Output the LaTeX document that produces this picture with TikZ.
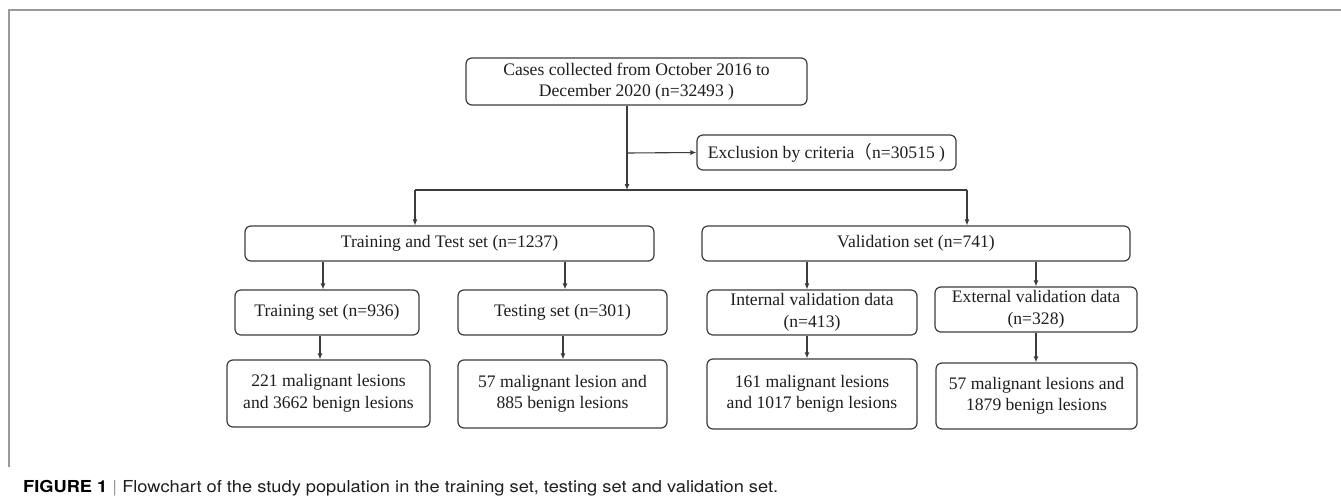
\documentclass[tikz,border=0pt]{standalone}
\usepackage{fontspec}
\setmainfont{Liberation Serif}
\newfontfamily\heros{TeX Gyre Heros}
\newfontfamily\cjk{Noto Sans CJK SC}
\usetikzlibrary{arrows.meta}
\definecolor{linecol}{HTML}{3C3C3C}
\definecolor{framecol}{HTML}{9A9A9A}
\definecolor{txtcol}{HTML}{1E1E1E}
\tikzset{
  box/.style={draw=linecol, line width=1.2pt, rounded corners=6pt, align=center,
    inner sep=0pt, text=txtcol, font=\fontsize{17.6}{21.5}\selectfont},
  arr/.style={draw=linecol, line width=1.1pt, -{Latex[length=6pt,width=5pt]}},
  ln/.style={draw=linecol, line width=1.1pt},
  frame/.style={draw=framecol, line width=1.6pt}
}
\begin{document}
\begin{tikzpicture}[x=1pt,y=-1pt]
\useasboundingbox (0,0) rectangle (1341,498);
% frame
\draw[frame] (1341,10) -- (9,10) -- (9,467);
% boxes
\node[box, minimum width=341pt, minimum height=47pt] (top) at (636.5,81.5)
  {Cases collected from October 2016 to\\December 2020 (n=32493 )};
\node[box, minimum width=259pt, minimum height=35pt] (excl) at (826.5,152.5)
  {Exclusion by criteria{\cjk （}n=30515 )};
\node[box, minimum width=409pt, minimum height=35pt] (tt) at (449.5,243.5)
  {Training and Test set (n=1237)};
\node[box, minimum width=428pt, minimum height=35pt] (val) at (916,243.5)
  {Validation set (n=741)};
\node[box, minimum width=184pt, minimum height=45pt] (trn) at (327,312.5)
  {Training set (n=936)};
\node[box, minimum width=209pt, minimum height=45pt] (tst) at (562.5,312.5)
  {Testing set (n=301)};
\node[box, minimum width=210pt, minimum height=45pt] (int) at (812,312.5)
  {Internal validation data\\(n=413)};
\node[box, minimum width=202pt, minimum height=45pt] (ext) at (1036,309.5)
  {External validation data\\(n=328)};
\node[box, minimum width=203pt, minimum height=67pt] (b1) at (328.5,393.5)
  {221 malignant lesions\\and 3662 benign lesions};
\node[box, minimum width=209pt, minimum height=68pt] (b2) at (562.5,394)
  {57 malignant lesion and\\885 benign lesions};
\node[box, minimum width=210pt, minimum height=70pt] (b3) at (812,394)
  {161 malignant lesions\\and 1017 benign lesions};
\node[box, minimum width=201pt, minimum height=66pt] (b4) at (1036.5,396)
  {57 malignant lesions and\\1879 benign lesions};
% coordinates
\coordinate (split) at (627,153);
\coordinate (j) at (627,190);
\coordinate (jl) at (415,190);
\coordinate (jr) at (967,190);
\coordinate (xa) at (323,0);
\coordinate (xb) at (565,0);
\coordinate (xc) at (320,0);
\coordinate (xd) at (563,0);
\coordinate (xe) at (807,0);
\coordinate (xf) at (1036,0);
% connectors
\draw[arr] (top.south -| j) -- (j);
\draw[arr] (split) -- (excl.west);
\draw[ln] (jl) -- (jr);
\draw[arr] (jl) -- (tt.north -| jl);
\draw[arr] (jr) -- (val.north -| jr);
\draw[arr] (tt.south -| xa) -- (trn.north -| xa);
\draw[arr] (tt.south -| xb) -- (tst.north -| xb);
\draw[arr] (trn.south -| xc) -- (b1.north -| xc);
\draw[arr] (tst.south -| xd) -- (b2.north -| xd);
\draw[arr] (val.south -| xe) -- (int.north -| xe);
\draw[arr] (val.south -| xf) -- (ext.north -| xf);
\draw[arr] (int.south -| xe) -- (b3.north -| xe);
\draw[arr] (ext.south -| xf) -- (b4.north -| xf);
% caption
\node[anchor=base west, inner sep=0pt] (cap) at (23,492)
  {\resizebox{755pt}{\height}{\heros\fontsize{16.5}{18}\selectfont
   \textbf{FIGURE 1}\ {\color{framecol}|}\ {\color{txtcol}Flowchart of the study population in the training set, testing set and validation set.}}};
\end{tikzpicture}
\end{document}
